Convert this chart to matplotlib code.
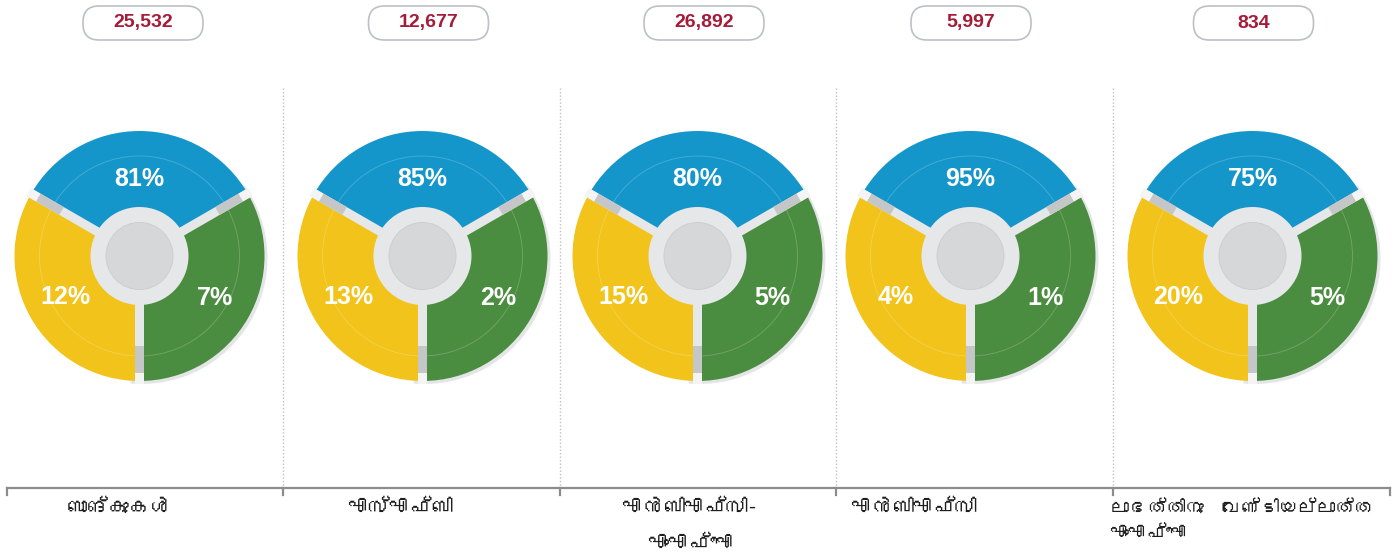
import numpy as np
import matplotlib
matplotlib.use('Agg')
import matplotlib.pyplot as plt
from matplotlib import font_manager
from matplotlib.patches import Wedge, Circle, Polygon, FancyBboxPatch

# data
categories = [
    ['ബാങ്കുകൾ'],
    ['എസ്എഫ്ബി'],
    ['എൻബിഎഫ്സി-', 'എംഎഫ്ഐ'],
    ['എൻബിഎഫ്സി'],
    ['ലാഭത്തിനു  വേണ്ടിയല്ലാത്ത', 'എംഎഫ്ഐ'],
]
totals = [25532, 12677, 26892, 5997, 834]
blue_pct = [81, 85, 80, 95, 75]
yellow_pct = [12, 13, 15, 4, 20]
green_pct = [7, 2, 5, 1, 5]

BLUE = '#1596cb'
GREEN = '#4b8d40'
YELLOW = '#f2c31a'
RED = '#a51c38'
H = 555


def find_font(ch):
    try:
        from fontTools.ttLib import TTFont
    except ImportError:
        return None
    for entry in font_manager.fontManager.ttflist:
        try:
            f = TTFont(entry.fname, fontNumber=0, lazy=True)
            if ord(ch) in f.getBestCmap():
                return entry.name
        except Exception:
            pass
    return None


ml_font = find_font('ബ')
label_family = [ml_font, 'DejaVu Sans'] if ml_font else ['DejaVu Sans']

fig = plt.figure(figsize=(13.95, 5.55), dpi=100)
ax = fig.add_axes([0, 0, 1, 1])
ax.set_xlim(0, 1395)
ax.set_ylim(0, H)
ax.axis('off')

donut_x = [139.5, 422.5, 697.5, 970.5, 1252.5]
pill_x = [143, 428.5, 704, 971, 1253.5]
cy = H - 256
R = 125


def spoke(cx, cy, ang, r0, r1, hw, color, z):
    a = np.deg2rad(ang)
    d = np.array([np.cos(a), np.sin(a)])
    n = np.array([-d[1], d[0]])
    c = np.array([cx, cy])
    pts = [c + d * r0 + n * hw, c + d * r1 + n * hw,
           c + d * r1 - n * hw, c + d * r0 - n * hw]
    ax.add_patch(Polygon(pts, closed=True, facecolor=color, edgecolor='none', zorder=z))


for i in range(5):
    cx = donut_x[i]
    # soft shadow behind green
    ax.add_patch(Wedge((cx + 2, cy - 2), R + 1, -95, 35, facecolor='#e4e5e6',
                       edgecolor='none', zorder=1))
    ax.add_patch(Wedge((cx, cy), R, 30, 150, facecolor=BLUE, edgecolor='none', zorder=2))
    ax.add_patch(Wedge((cx, cy), R, 150, 270, facecolor=YELLOW, edgecolor='none', zorder=2))
    ax.add_patch(Wedge((cx, cy), R, -90, 30, facecolor=GREEN, edgecolor='none', zorder=2))
    ax.add_patch(Circle((cx, cy), 100, facecolor='none', edgecolor='white',
                        alpha=0.22, lw=0.6, zorder=3))
    for ang in (30, 150, 270):
        spoke(cx, cy, ang, 0, R + 2, 4.5, '#e6e7e8', 4)
        spoke(cx, cy, ang, 90, 117, 4.5, '#c5c6c7', 5)
        spoke(cx, cy, ang, 117, R + 3, 4.5, '#f4f4f4', 5)
    ax.add_patch(Circle((cx, cy), 49, facecolor='#e6e7e8', edgecolor='none', zorder=6))
    ax.add_patch(Circle((cx, cy), 33.5, facecolor='#d6d7d9', edgecolor='#cdced0',
                        lw=0.7, zorder=7))

    kw = dict(color='white', fontsize=18, fontweight='bold', family='Liberation Sans',
              ha='center', va='center', zorder=8)
    ax.text(cx, cy + 77, f'{blue_pct[i]}%', **kw)
    a = np.deg2rad(209)
    ax.text(cx + 85 * np.cos(a), cy + 85 * np.sin(a), f'{yellow_pct[i]}%', **kw)
    a = np.deg2rad(331)
    ax.text(cx + 86 * np.cos(a), cy + 86 * np.sin(a), f'{green_pct[i]}%', **kw)

    # total pill
    px = pill_x[i]
    ax.add_patch(FancyBboxPatch((px - 60, H - 40), 120, 34,
                                boxstyle='round,pad=0,rounding_size=16',
                                facecolor='white', edgecolor='#bcc0c5', lw=1.2, zorder=2))
    ax.text(px, H - 23, f'{totals[i]:,}', color=RED, fontsize=14, fontweight='bold',
            family='Liberation Sans', ha='center', va='center', zorder=3)

# separators and base axis
sep_x = [283, 560, 836, 1113]
for x in sep_x:
    ax.plot([x, x], [H - 88, H - 488], color='#c0c0c0', lw=1, ls=(0, (1, 1.5)), zorder=0)
ax.plot([7, 1390], [H - 488, H - 488], color='#8c8c8c', lw=1.6, zorder=1)
for x in [7] + sep_x + [1390]:
    ax.plot([x, x], [H - 488, H - 495], color='#8c8c8c', lw=1.6, zorder=1)

# category labels
label_pos = [
    [(119, 508, 'center', 15)],
    [(400, 508, 'center', 15)],
    [(690, 508, 'center', 15), (690, 544, 'center', 15)],
    [(914, 508, 'center', 15)],
    [(1110, 508, 'left', 13.5), (1110, 533, 'left', 13.5)],
]
for lines, pos in zip(categories, label_pos):
    for txt, (x, y, ha, fs) in zip(lines, pos):
        ax.text(x, H - y, txt, fontsize=fs, family=label_family, color='#1e1e1e',
                ha=ha, va='center')

fig.savefig('out.png', dpi=100)
